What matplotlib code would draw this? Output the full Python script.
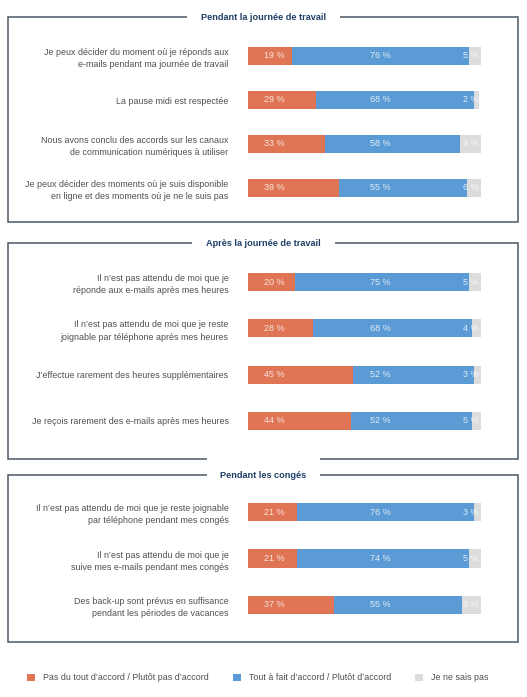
# Sondage : droit à la déconnexion — barres empilées par section
import matplotlib.pyplot as plt
from matplotlib.patches import Rectangle

W, H = 527, 697
plt.rcParams["font.family"] = ["Liberation Sans", "DejaVu Sans"]

ORANGE = "#E07555"
BLEU = "#5B9BD5"
GRIS = "#DCDCDC"
CADRE = "#4A5866"
TITRE = "#1F3F66"
TEXTE = "#4F4F4F"

legende = ["Pas du tout d’accord / Plutôt pas d’accord",
           "Tout à fait d’accord / Plutôt d’accord",
           "Je ne sais pas"]

titres = ["Pendant la journée de travail",
          "Après la journée de travail",
          "Pendant les congés"]

questions_1 = ["Je peux décider du moment où je réponds aux\ne-mails pendant ma journée de travail",
               "La pause midi est respectée",
               "Nous avons conclu des accords sur les canaux\nde communication numériques à utiliser",
               "Je peux décider des moments où je suis disponible\nen ligne et des moments où je ne le suis pas"]
desaccord_1 = [19, 29, 33, 39]
accord_1 = [76, 68, 58, 55]
nsp_1 = [5, 2, 9, 6]

questions_2 = ["Il n’est pas attendu de moi que je\nréponde aux e-mails après mes heures",
               "Il n’est pas attendu de moi que je reste\njoignable par téléphone après mes heures",
               "J’effectue rarement des heures supplémentaires",
               "Je reçois rarement des e-mails après mes heures"]
desaccord_2 = [20, 28, 45, 44]
accord_2 = [75, 68, 52, 52]
nsp_2 = [5, 4, 3, 5]

questions_3 = ["Il n’est pas attendu de moi que je reste joignable\npar téléphone pendant mes congés",
               "Il n’est pas attendu de moi que je\nsuive mes e-mails pendant mes congés",
               "Des back-up sont prévus en suffisance\npendant les périodes de vacances"]
desaccord_3 = [21, 21, 37]
accord_3 = [76, 74, 55]
nsp_3 = [3, 5, 8]

sections = [
    (questions_1, desaccord_1, accord_1, nsp_1),
    (questions_2, desaccord_2, accord_2, nsp_2),
    (questions_3, desaccord_3, accord_3, nsp_3),
]

# positions en pixels : (haut du cadre, bas du cadre, haut axes, bas axes)
cadres = [(17, 222, 34, 210), (243, 459, 259, 444), (475, 642, 489, 628)]


def fy(p):
    return 1 - p / H


fig = plt.figure(figsize=(W / 100, H / 100), dpi=100)

for titre, (questions, d, a, n), (ct, cb, at, ab) in zip(titres, sections, cadres):
    # cadre de la section
    fig.add_artist(Rectangle((8 / W, fy(cb)), 510 / W, (cb - ct) / H,
                             transform=fig.transFigure, fill=False,
                             edgecolor=CADRE, linewidth=1.1))
    fig.text(0.5, fy(ct), titre, ha="center", va="center", fontsize=6.6,
             fontweight="bold", color=TITRE, zorder=5,
             bbox=dict(facecolor="white", edgecolor="none", pad=10))

    ax = fig.add_axes([248 / W, fy(ab), 233 / W, (ab - at) / H])
    y = list(range(len(questions)))
    gauche2 = [x1 + x2 for x1, x2 in zip(d, a)]
    b1 = ax.barh(y, d, height=0.39, color=ORANGE, label=legende[0])
    b2 = ax.barh(y, a, left=d, height=0.39, color=BLEU, label=legende[1])
    b3 = ax.barh(y, n, left=gauche2, height=0.39, color=GRIS, label=legende[2])

    for i in y:
        for xpos, val in ((11.5, d[i]), (57, a[i]), (95.8, n[i])):
            ax.text(xpos, i, f"{val} %", ha="center", va="center",
                    fontsize=6.5, color="white", alpha=0.8)

    ax.set_xlim(0, 100)
    ax.set_ylim(len(questions) - 0.5, -0.5)
    ax.set_yticks(y)
    ax.set_yticklabels(questions, fontsize=6.4, color=TEXTE, ha="right",
                       linespacing=1.45)
    ax.tick_params(axis="y", length=0, pad=14)
    ax.set_xticks([])
    for s in ax.spines.values():
        s.set_visible(False)
    ax.patch.set_visible(False)

fig.legend(handles=[b1, b2, b3], loc="center", bbox_to_anchor=(0.49, fy(678)),
           ncol=3, frameon=False, fontsize=6.4, labelcolor=TEXTE,
           handlelength=0.9, handleheight=0.9, handletextpad=0.9,
           columnspacing=2.7)

fig.savefig("out.png", dpi=100)
